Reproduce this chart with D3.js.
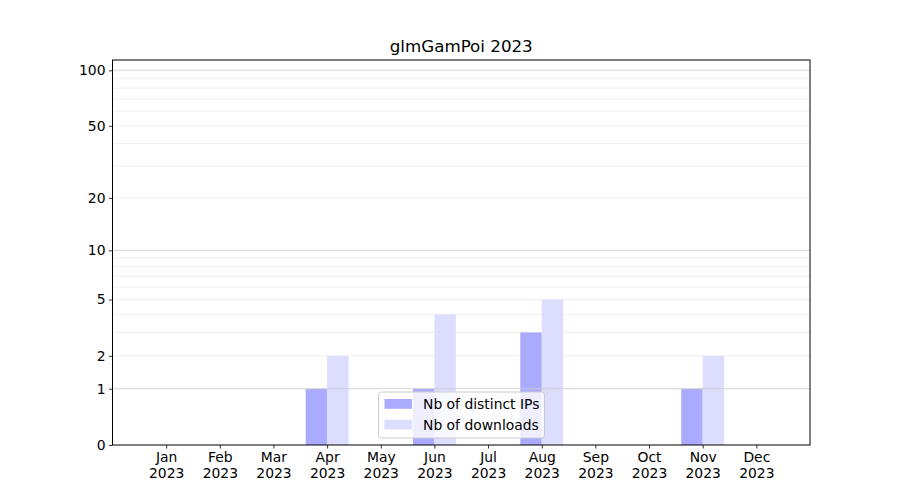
<!DOCTYPE html>
<html>
<head>
<meta charset="utf-8">
<script src="https://cdn.jsdelivr.net/npm/d3@7"></script>
<style>
  body { margin: 0; background: #fff; }
  svg text { font-family: "DejaVu Sans", sans-serif; }
</style>
</head>
<body>
<svg id="chart" width="900" height="500"></svg>
<script>
const title = "glmGamPoi 2023";
const months = ["Jan","Feb","Mar","Apr","May","Jun","Jul","Aug","Sep","Oct","Nov","Dec"];
const year = "2023";
const ips = [0,0,0,1,0,1,0,3,0,0,1,0];
const downloads = [0,0,0,2,0,4,0,5,0,0,2,0];
const yTicks = [0,1,2,5,10,20,50,100];
const majorGrid = [1,10,100];
const minorGrid = [2,3,4,5,6,7,8,9,20,30,40,50,60,70,80,90];
const seriesNames = ["Nb of distinct IPs","Nb of downloads"];
const colors = ["#aaaaff","#ddddff"];

const svg = d3.select("#chart");
const L = 112.5, R = 810, T = 60, B = 445;

const x = d3.scaleLinear().domain([-1, 12]).range([L, R]);
const y = d3.scaleSymlog().constant(1).domain([0, 113.7]).range([B, T]);

// minor grid
svg.append("g").selectAll("line").data(minorGrid).join("line")
  .attr("x1", L).attr("x2", R)
  .attr("y1", d => y(d)).attr("y2", d => y(d))
  .attr("stroke", "#ebebeb").attr("stroke-width", 0.8);

// bars
const barW = 0.4;
svg.append("g").selectAll("rect").data(ips).join("rect")
  .attr("x", (d, i) => x(i - barW))
  .attr("width", (d, i) => x(i) - x(i - barW))
  .attr("y", d => y(d))
  .attr("height", d => B - y(d))
  .attr("fill", colors[0]);
svg.append("g").selectAll("rect").data(downloads).join("rect")
  .attr("x", (d, i) => x(i))
  .attr("width", (d, i) => x(i + barW) - x(i))
  .attr("y", d => y(d))
  .attr("height", d => B - y(d))
  .attr("fill", colors[1]);

// major grid
svg.append("g").selectAll("line").data(majorGrid).join("line")
  .attr("x1", L).attr("x2", R)
  .attr("y1", d => y(d)).attr("y2", d => y(d))
  .attr("stroke", "#cccccc").attr("stroke-width", 0.8);

// frame
svg.append("rect").attr("x", L).attr("y", T).attr("width", R - L).attr("height", B - T)
  .attr("fill", "none").attr("stroke", "#000").attr("stroke-width", 1);

// y axis
const yAxis = d3.axisLeft(y).tickValues(yTicks).tickFormat(d3.format("d")).tickSize(3.5).tickPadding(3.5);
const gy = svg.append("g").attr("transform", `translate(${L},0)`).call(yAxis);
gy.select(".domain").remove();
gy.selectAll("text").attr("font-size", "13.9px").attr("fill", "#000").attr("font-family", "DejaVu Sans");
gy.selectAll("line").attr("stroke", "#000").attr("stroke-width", 0.8);

// x axis
const xAxis = d3.axisBottom(x).tickValues(d3.range(months.length)).tickFormat(i => months[i]).tickSize(3.5).tickPadding(3.5);
const gx = svg.append("g").attr("transform", `translate(0,${B})`).call(xAxis);
gx.select(".domain").remove();
gx.selectAll("line").attr("stroke", "#000").attr("stroke-width", 0.8);
gx.selectAll("text").each(function(i) {
  const t = d3.select(this);
  t.text(null).attr("font-size", "13.9px").attr("fill", "#000").attr("font-family", "DejaVu Sans");
  t.append("tspan").attr("x", 0).attr("dy", "0.71em").text(months[i]);
  t.append("tspan").attr("x", 0).attr("dy", "1.15em").text(year);
});

// title
svg.append("text").attr("x", (L + R) / 2).attr("y", 52).attr("text-anchor", "middle")
  .attr("font-size", "16.7px").attr("fill", "#000").text(title);

// legend
const lg = svg.append("g");
lg.append("rect").attr("x", 378.5).attr("y", 392).attr("width", 166).attr("height", 46)
  .attr("rx", 3).attr("fill", "#fff").attr("fill-opacity", 0.8)
  .attr("stroke", "#cccccc").attr("stroke-width", 1);
seriesNames.forEach((name, k) => {
  const yy = 399 + k * 20.7;
  lg.append("rect").attr("x", 384.5).attr("y", yy).attr("width", 27.5).attr("height", 9.8).attr("fill", colors[k]);
  lg.append("text").attr("x", 423).attr("y", yy + 5).attr("dy", "0.36em")
    .attr("font-size", "13.9px").attr("fill", "#000").text(name);
});
</script>
</body>
</html>
